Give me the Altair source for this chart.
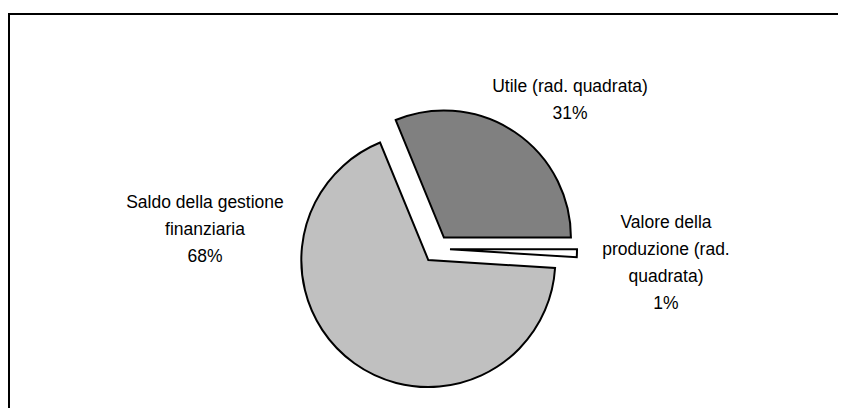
import math
import altair as alt
import pandas as pd

# ---- data ----
categories = [
    "Valore della produzione (rad. quadrata)",
    "Saldo della gestione finanziaria",
    "Utile (rad. quadrata)",
]
shares = [1.0, 67.8, 31.2]
label_lines = [
    "Valore della\nproduzione (rad.\nquadrata)",
    "Saldo della gestione\nfinanziaria",
    "Utile (rad. quadrata)",
]
colors = ["#ffffff", "#c0c0c0", "#808080"]

# ---- layout ----
W, H = 830, 400
CX, CY = 428.3, 240.9          # pie centre (px, inside the chart)
R = 127                        # pie radius
EXPLODE = 13.7                 # explosion distance of every slice
START = math.pi / 2            # first slice starts at 3 o'clock
LABEL_XY = {
    categories[0]: (658, 220),
    categories[1]: (197, 200),
    categories[2]: (562, 84),
}

df = pd.DataFrame({
    "order": list(range(len(categories))),
    "category": categories,
    "share": shares,
    "label": label_lines,
})
df["lx"] = [LABEL_XY[c][0] for c in categories]
df["ly"] = [LABEL_XY[c][1] for c in categories]

base = (
    alt.Chart(df)
    .transform_joinaggregate(total="sum(share)")
    .transform_window(cum="sum(share)", sort=[alt.SortField("order")], frame=[None, 0])
    .transform_calculate(
        t0=f"{START} + 2*PI*(datum.cum - datum.share)/datum.total",
        t1=f"{START} + 2*PI*datum.cum/datum.total",
    )
    .transform_calculate(mid="(datum.t0 + datum.t1)/2")
    .transform_calculate(
        cx=f"{CX} + {EXPLODE}*sin(datum.mid)",
        cy=f"{CY} - {EXPLODE}*cos(datum.mid)",
        txt="datum.label + '\\n' + format(datum.share/datum.total, '.0%')",
    )
)

arcs = base.mark_arc(radius=R, stroke="black", strokeWidth=2, strokeJoin="miter").encode(
    theta=alt.Theta("t0:Q", scale=None),
    theta2="t1:Q",
    x=alt.X("cx:Q", scale=None, axis=None),
    y=alt.Y("cy:Q", scale=None, axis=None),
    color=alt.Color("category:N", scale=alt.Scale(domain=categories, range=colors), legend=None),
)

texts = base.mark_text(
    font="Liberation Sans, Arial, sans-serif",
    fontSize=17.5,
    lineHeight=27,
    align="center",
    baseline="alphabetic",
    lineBreak="\n",
    color="black",
).encode(
    x=alt.X("lx:Q", scale=None, axis=None),
    y=alt.Y("ly:Q", scale=None, axis=None),
    text="txt:N",
)

# chart frame: only its left and top edges fall inside the picture
one = pd.DataFrame({"a": [0]})
frame_top = alt.Chart(one).mark_rule(color="black", strokeWidth=2, strokeCap="square").encode(
    x=alt.value(1), x2=alt.value(W), y=alt.value(6)
)
frame_left = alt.Chart(one).mark_rule(color="black", strokeWidth=2, strokeCap="square").encode(
    x=alt.value(1), y=alt.value(6), y2=alt.value(H)
)

chart = (
    alt.layer(frame_top, frame_left, arcs, texts)
    .properties(width=W, height=H, padding=0, autosize="none", background="white")
    .configure_view(strokeWidth=0)
)

chart.save("out.html", embed_options={"renderer": "svg", "actions": False})
